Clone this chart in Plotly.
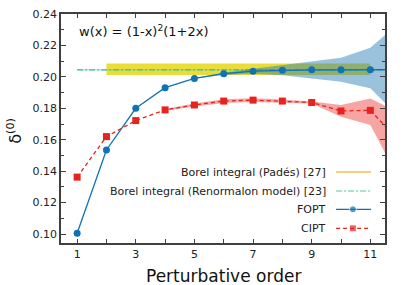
import plotly.graph_objects as go

# ---------------- data ----------------
order = [1, 2, 3, 4, 5, 6, 7, 8, 9, 10, 11, 12]
fopt = [0.1005, 0.1535, 0.1800, 0.1931, 0.1990, 0.2020, 0.2036, 0.2042, 0.2045, 0.2045, 0.2046, 0.2046]
cipt = [0.1362, 0.1620, 0.1722, 0.1790, 0.1821, 0.1846, 0.1852, 0.1846, 0.1837, 0.1783, 0.1787, 0.1590]

fopt_band_x = [5, 6, 7, 8, 9, 10, 11, 12]
fopt_band_lo = [0.1988, 0.2012, 0.2020, 0.2010, 0.1990, 0.1969, 0.1927, 0.1740]
fopt_band_hi = [0.1992, 0.2028, 0.2052, 0.2075, 0.2096, 0.2122, 0.2186, 0.2346]

cipt_band_x = [4, 5, 6, 7, 8, 9, 10, 11, 12]
cipt_band_lo = [0.1785, 0.1812, 0.1834, 0.1840, 0.1836, 0.1831, 0.1746, 0.1693, 0.1340]
cipt_band_hi = [0.1795, 0.1830, 0.1858, 0.1864, 0.1856, 0.1843, 0.1821, 0.1863, 0.1770]

pade_x = [2, 11]
pade_center = 0.2048
pade_lo = 0.2012
pade_hi = 0.2085

renorm_x = [1, 12]
renorm_center = 0.2045
renorm_err = 0.0005

x_major = [1, 3, 5, 7, 9, 11]
y_major = [0.10, 0.12, 0.14, 0.16, 0.18, 0.20, 0.22, 0.24]

legend_labels = ["Borel integral (Padés) [27]",
                 "Borel integral (Renormalon model) [23]",
                 "FOPT", "CIPT"]

BLUE = "#0f72b5"
RED = "#e8231f"
FONT = "DejaVu Sans"

fig = go.Figure()

# Padé band (yellow)
fig.add_trace(go.Scatter(x=pade_x, y=[pade_lo] * 2, mode="lines", line=dict(width=0),
                         hoverinfo="skip", showlegend=False))
fig.add_trace(go.Scatter(x=pade_x, y=[pade_hi] * 2, mode="lines", line=dict(width=0),
                         fill="tonexty", fillcolor="rgba(232,218,40,0.92)",
                         hoverinfo="skip", showlegend=False))

# Renormalon model band + dash-dot line
fig.add_trace(go.Scatter(x=renorm_x, y=[renorm_center - renorm_err] * 2, mode="lines",
                         line=dict(width=0), hoverinfo="skip", showlegend=False))
fig.add_trace(go.Scatter(x=renorm_x, y=[renorm_center + renorm_err] * 2, mode="lines",
                         line=dict(width=0), fill="tonexty",
                         fillcolor="rgba(120,215,180,0.45)",
                         hoverinfo="skip", showlegend=False))
fig.add_trace(go.Scatter(x=renorm_x, y=[renorm_center] * 2, mode="lines",
                         line=dict(color="#3dbb8c", width=1.3, dash="6px,2px,2px,2px"),
                         showlegend=False))

# FOPT band
fig.add_trace(go.Scatter(x=fopt_band_x, y=fopt_band_lo, mode="lines", line=dict(width=0),
                         hoverinfo="skip", showlegend=False))
fig.add_trace(go.Scatter(x=fopt_band_x, y=fopt_band_hi, mode="lines", line=dict(width=0),
                         fill="tonexty", fillcolor="rgba(31,119,180,0.45)",
                         hoverinfo="skip", showlegend=False))

# CIPT band
fig.add_trace(go.Scatter(x=cipt_band_x, y=cipt_band_lo, mode="lines", line=dict(width=0),
                         hoverinfo="skip", showlegend=False))
fig.add_trace(go.Scatter(x=cipt_band_x, y=cipt_band_hi, mode="lines", line=dict(width=0),
                         fill="tonexty", fillcolor="rgba(235,40,35,0.42)",
                         hoverinfo="skip", showlegend=False))

# FOPT / CIPT lines
fig.add_trace(go.Scatter(x=order, y=fopt, mode="lines+markers",
                         line=dict(color=BLUE, width=1.3),
                         marker=dict(symbol="circle", size=7, color=BLUE),
                         cliponaxis=True, showlegend=False))
fig.add_trace(go.Scatter(x=order, y=cipt, mode="lines+markers",
                         line=dict(color=RED, width=1.3, dash="4px,3px"),
                         marker=dict(symbol="square", size=7, color=RED),
                         cliponaxis=True, showlegend=False))

# ---------------- manual legend (symbols on right) ----------------
leg_y = [0.310, 0.227, 0.147, 0.064]
sx0, sxm, sx1 = 0.849, 0.901, 0.957
fig.add_trace(go.Scatter(x=[sx0, sx1], y=[leg_y[0]] * 2, xaxis="x2", yaxis="y2", mode="lines",
                         line=dict(color="#f3cf7f", width=2), showlegend=False, hoverinfo="skip"))
fig.add_trace(go.Scatter(x=[sx0, sx1], y=[leg_y[1]] * 2, xaxis="x2", yaxis="y2", mode="lines",
                         line=dict(color="#86dcb8", width=1.3, dash="6px,2px,2px,2px"),
                         showlegend=False, hoverinfo="skip"))
fig.add_trace(go.Scatter(x=[sx0, sxm, sx1], y=[leg_y[2]] * 3, xaxis="x2", yaxis="y2",
                         mode="lines+markers", line=dict(color=BLUE, width=1.3),
                         marker=dict(symbol="circle", size=[0, 7, 0], color=BLUE),
                         showlegend=False, hoverinfo="skip"))
fig.add_trace(go.Scatter(x=[sx0, sxm, sx1], y=[leg_y[3]] * 3, xaxis="x2", yaxis="y2",
                         mode="lines+markers", line=dict(color=RED, width=1.3, dash="4px,3px"),
                         marker=dict(symbol="square", size=[0, 7, 0], color=RED),
                         showlegend=False, hoverinfo="skip"))

annotations = []
for lbl, yy in zip(legend_labels, leg_y):
    annotations.append(dict(text=lbl, x=0.824, y=yy, xref="paper", yref="paper",
                            xanchor="right", yanchor="middle", showarrow=False,
                            font=dict(family=FONT, size=11, color="#222")))
annotations.append(dict(text="w(x) = (1-x)<sup>2</sup>(1+2x)", x=0.049, y=0.926,
                        xref="paper", yref="paper", xanchor="left", yanchor="middle",
                        showarrow=False, font=dict(family=FONT, size=13, color="#111")))
# axis titles
annotations.append(dict(text="Perturbative order", x=0.5, y=-0.144, xref="paper", yref="paper",
                        xanchor="center", yanchor="middle", showarrow=False,
                        font=dict(family=FONT, size=17, color="#111")))
annotations.append(dict(text="δ<sup>(0)</sup>", x=-0.142, y=0.49, xref="paper", yref="paper",
                        xanchor="center", yanchor="middle", showarrow=False, textangle=-90,
                        font=dict(family=FONT, size=16, color="#111")))

AX = "#404040"
fig.update_layout(
    width=407, height=285,
    margin=dict(l=61, r=22, t=14, b=42, autoexpand=False),
    paper_bgcolor="white", plot_bgcolor="white",
    font=dict(family=FONT, size=11, color="#222"),
    showlegend=False,
    annotations=annotations,
    xaxis=dict(range=[0.45, 11.5], tickvals=x_major, ticktext=[str(v) for v in x_major],
               ticks="inside", ticklen=4, tickwidth=1, tickcolor=AX,
               minor=dict(dtick=1, tick0=0, ticks="inside", ticklen=4, tickcolor=AX),
               showline=True, linecolor=AX, linewidth=1.5, mirror="allticks",
               showgrid=False, zeroline=False, automargin=False,
               tickfont=dict(family=FONT, size=11, color="#222")),
    yaxis=dict(range=[0.0943, 0.24], tickvals=y_major,
               ticktext=["%.2f" % v for v in y_major],
               ticks="inside", ticklen=5, tickwidth=1, tickcolor=AX,
               minor=dict(dtick=0.01, tick0=0, ticks="inside", ticklen=3, tickcolor=AX),
               showline=True, linecolor=AX, linewidth=1.5, mirror="allticks",
               showgrid=False, zeroline=False, automargin=False,
               tickfont=dict(family=FONT, size=11, color="#222")),
    xaxis2=dict(overlaying="x", range=[0, 1], visible=False, fixedrange=True),
    yaxis2=dict(overlaying="y", range=[0, 1], visible=False, fixedrange=True),
)

# remove the default 8px page margin so the figure sits at the window's top-left corner
fig.write_html("out.html",
               config={"displayModeBar": False},
               post_script="document.body.style.margin='0';document.body.style.overflow='hidden';")
